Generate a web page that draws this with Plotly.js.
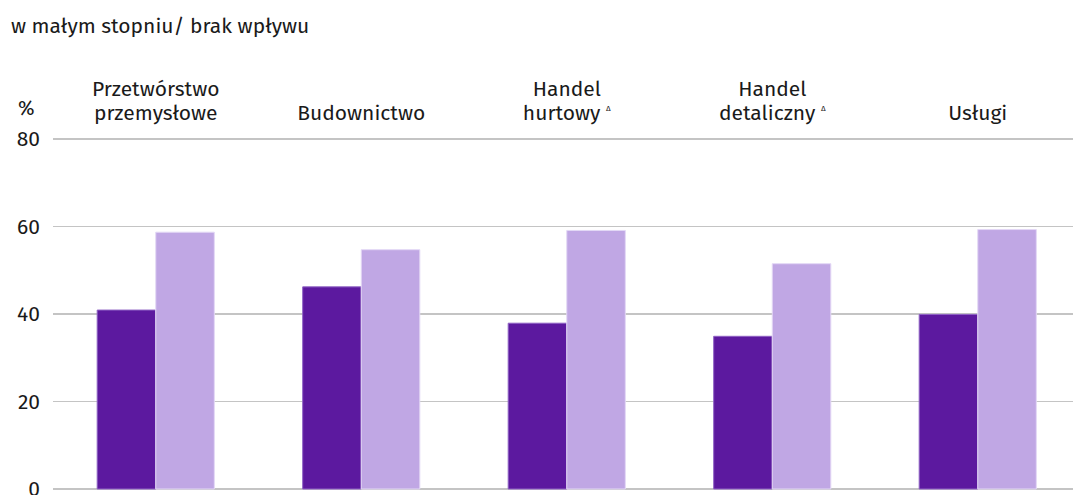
<!DOCTYPE html>
<html>
<head>
<meta charset="utf-8">
<script src="https://cdn.plot.ly/plotly-3.0.1.min.js"></script>
<style>html,body{margin:0;padding:0;background:#fff;overflow:hidden}#chart{width:1073px;height:495px}</style>
</head>
<body>
<div id="chart"></div>
<script>
const categories = ['Przetwórstwo przemysłowe', 'Budownictwo', 'Handel hurtowy', 'Handel detaliczny', 'Usługi'];
const labelLine1 = ['Przetwórstwo', '', 'Handel', 'Handel', ''];
const labelLine2 = ['przemysłowe', 'Budownictwo', 'hurtowy', 'detaliczny', 'Usługi'];
const labelMark = ['', '', 'Δ', 'Δ', ''];
const seriesDarkName = 'w dużym stopniu';
const seriesDark = [40.9, 46.2, 37.9, 34.9, 39.9];
const seriesLightName = 'w małym stopniu/ brak wpływu';
const seriesLight = [58.7, 54.7, 59.1, 51.5, 59.3];
const yTicks = [0, 20, 40, 60, 80];

const font = 'Fira Sans, "Noto Sans", sans-serif';
const txt = '#1a1a1a';
const idx = categories.map((c, i) => i);
const line1Idx = idx.filter(i => labelLine1[i] !== '');
const line2Text = labelLine2.map((t, i) => labelMark[i]
  ? t + '&nbsp;<sup><span style="font-size:8px">' + labelMark[i] + '</span></sup>' : t);

const traces = [
  {type:'bar', x:categories, y:seriesDark, name:seriesDarkName,
   marker:{color:'#5c199f', line:{color:'#8f62c4', width:1}}},
  {type:'bar', x:categories, y:seriesLight, name:seriesLightName,
   marker:{color:'#c0a7e4', line:{color:'#e3d8f5', width:1}}},
  // invisible helper so the second (first-line label) axis is drawn
  {type:'scatter', x:idx, y:seriesDark, xaxis:'x2', yaxis:'y', mode:'markers',
   marker:{opacity:0}, hoverinfo:'skip', showlegend:false}
];

const xr = [-0.5, 4.4635];
const layout = {
  width:1073, height:495,
  margin:{l:53, r:0, t:137, b:4, pad:0},
  paper_bgcolor:'#fff', plot_bgcolor:'#fff',
  font:{family:font, size:21, color:txt},
  showlegend:false,
  barmode:'group', bargap:0.43, bargroupgap:0,
  xaxis:{side:'top', type:'category', range:xr, showgrid:false, zeroline:false,
         showline:false, ticks:'', tickvals:categories, ticktext:line2Text,
         ticklabelstandoff:12, tickfont:{size:21, color:txt}},
  xaxis2:{overlaying:'x', side:'top', type:'linear', range:xr, showgrid:false, zeroline:false,
          showline:false, ticks:'', tickvals:line1Idx, ticktext:line1Idx.map(i => labelLine1[i]),
          ticklabelstandoff:36, tickfont:{size:21, color:txt}},
  yaxis:{range:[-0.457, 80.457], tickvals:yTicks, ticktext:yTicks.map(String), showgrid:true,
         gridcolor:'#c4c4c4', gridwidth:1.5, zeroline:false, showline:false, ticks:'',
         ticklabelstandoff:12, ticklabeloverflow:'allow', tickfont:{size:21, color:txt}},
  annotations:[
    {xref:'paper', yref:'paper', x:-26.5/1020, y:383/354, text:'%', showarrow:false,
     xanchor:'center', yanchor:'middle', font:{size:20, color:txt}},
    {xref:'paper', yref:'paper', x:-44/1020, y:465/354, text:seriesLightName, showarrow:false,
     xanchor:'left', yanchor:'middle', font:{size:21, color:txt}}
  ]
};

Plotly.newPlot('chart', traces, layout, {displayModeBar:false, staticPlot:true});
</script>
</body>
</html>
